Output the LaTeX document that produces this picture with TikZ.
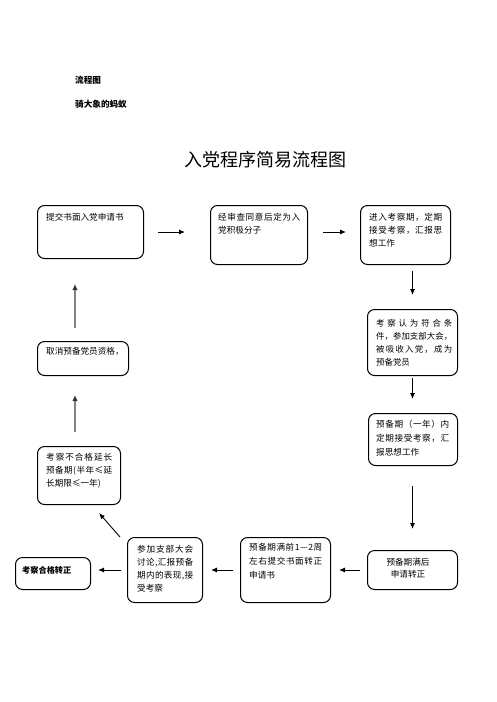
\documentclass[tikz,border=0pt]{standalone}
\usepackage{fontspec}
\setmainfont{Noto Sans CJK SC}
\usetikzlibrary{arrows.meta,calc}
\makeatletter
\def\sp@A#1#2\@nil{#1\ifx\relax#2\relax\else\hfill\sp@A#2\@nil\fi}
\newcommand\jl[2]{\hbox to #1pt{\sp@A#2\@nil}}
\makeatother
\tikzset{
  x=1pt, y=-1pt,
  box/.style={draw=black, line width=1pt, rounded corners=7pt, anchor=north west, inner sep=0pt},
  txt/.style={anchor=north west, inner sep=0pt, align=left, font=\fontsize{8.6}{13}\selectfont},
  arr/.style={draw=black, line width=0.9pt, -{Latex[length=6pt,width=5pt]}},
  garr/.style={draw=black!50, line width=1.6pt, -{Latex[length=6pt,width=5.5pt,color=black!80]}},
}
\newcommand\bx[5]{\node[box, minimum width=#4-#2, minimum height=#5-#3] (#1) at (#2,#3) {};}
\begin{document}
\begin{tikzpicture}
\fill[white] (0,0) rectangle (496,702);
\useasboundingbox (0,0) rectangle (496,702);
% header
\node[anchor=west, inner sep=0pt, font=\fontsize{8.6}{10}\selectfont\bfseries] (h1) at (75,80) {流程图};
\node[anchor=west, inner sep=0pt, font=\fontsize{8.6}{10}\selectfont\bfseries] (h2) at (75,104) {骑大象的蚂蚁};
\node[inner sep=0pt, font=\fontsize{18}{20}\selectfont] (title) at (265.5,160) {入党程序简易流程图};
% boxes
\bx{b1}{37}{205}{143}{258}
\bx{b2}{210}{205}{307}{264}
\bx{b3}{360}{205}{450}{264}
\bx{b4}{367}{309}{457}{375}
\bx{b5}{368}{413}{457}{465}
\bx{b6}{367}{550}{457}{589}
\bx{b7}{240}{537}{330}{602}
\bx{b8}{127}{537}{202}{602}
\bx{b9}{15}{557}{90}{589}
\bx{b10}{37}{446}{120}{504}
\bx{b11}{37}{341}{128}{375}
% texts
\node[txt] (t1) at (46,213) {提交书面入党申请书};
\node[txt] (t2) at (218,213) {\jl{82}{经审查同意后定为入}\\党积极分子};
\node[txt] (t3) at (369,213) {\jl{73}{进入考察期，定期}\\\jl{73}{接受考察，汇报思}\\想工作};
\node[txt, font=\fontsize{8.4}{13}\selectfont] (t4) at (376,319) {\jl{76}{考察认为符合条}\\\jl{76}{件，参加支部大会，}\\\jl{76}{被吸收入党，成为}\\预备党员};
\node[txt, font=\fontsize{8.6}{14}\selectfont] (t5) at (376,420) {\jl{73}{预备期（一年）内}\\\jl{73}{定期接受考察，汇}\\报思想工作};
\node[inner sep=0pt, align=center, font=\fontsize{8.6}{12.5}\selectfont] (t6) at (408,568) {预备期满后\\申请转正};
\node[txt, font=\fontsize{8.6}{14}\selectfont] (t7) at (249,543) {\jl{73}{预备期满前1—2周}\\\jl{73}{左右提交书面转正}\\申请书};
\node[txt] (t8) at (137,545) {\jl{56}{参加支部大会}\\\jl{56}{讨论,汇报预备}\\\jl{56}{期内的表现,接}\\受考察};
\node[txt, font=\fontsize{8.2}{13}\selectfont\bfseries] (t9) at (22,566) {考察合格转正};
\node[txt] (t10) at (46,453) {\jl{66}{考察不合格延长}\\\jl{66}{预备期(半年≤延}\\长期限≤一年)};
\node[txt] (t11) at (46,347) {取消预备党员资格，};
% arrows
\draw[arr, shorten <=14pt, shorten >=25pt] (b1.east) -- (b1.east -| b2.west);
\draw[arr, shorten <=15pt, shorten >=14pt] (b2.east |- b1.east) -- (b3.west |- b1.east);
\draw[arr, shorten <=6pt, shorten >=14pt] (b4.north |- b3.south) -- (b4.north);
\draw[arr, shorten <=2pt, shorten >=14pt] (b4.south) -- (b4.south |- b5.north);
\draw[arr, shorten <=20pt, shorten >=21pt] (b4.south |- b5.south) -- (b4.south |- b6.north);
\draw[arr, shorten <=7pt, shorten >=8pt] (b6.west) -- (b6.west -| b7.east);
\draw[arr, shorten <=7pt, shorten >=8pt] (b7.west) -- (b7.west -| b8.east);
\draw[arr, shorten <=6pt, shorten >=7pt] (b8.west) -- (b8.west -| b9.east);
\draw[arr] ($(b8.north west)+(-7,0)$) -- ($(b10.south east)+(-22,8)$);
\draw[garr, shorten <=14pt, shorten >=19pt] ($(b10.north west)+(38,0)$) -- ($(b11.south west)+(38,0)$);
\draw[garr, shorten <=13pt, shorten >=25pt] ($(b11.north west)+(38,0)$) -- ($(b1.south west)+(38,0)$);
\end{tikzpicture}
\end{document}
